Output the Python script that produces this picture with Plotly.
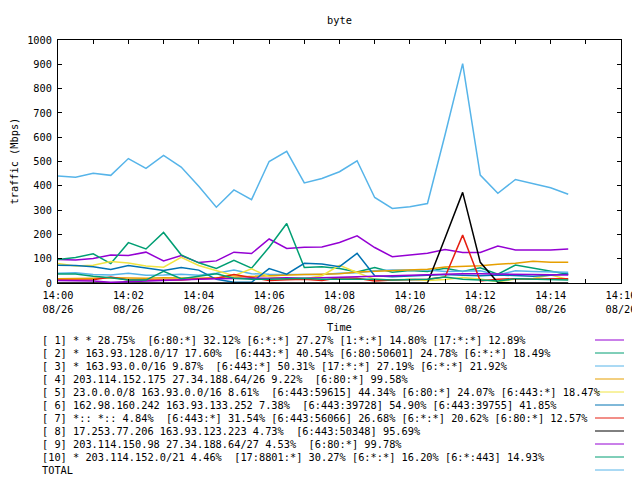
import plotly.graph_objects as go

# ---------------- data ----------------
sample_day = "2024-08-26"
sample_times = [
    "14:00:00", "14:00:30", "14:01:00", "14:01:30", "14:02:00", "14:02:30",
    "14:03:00", "14:03:30", "14:04:00", "14:04:30", "14:05:00", "14:05:30",
    "14:06:00", "14:06:30", "14:07:00", "14:07:30", "14:08:00", "14:08:30",
    "14:09:00", "14:09:30", "14:10:00", "14:10:30", "14:11:00", "14:11:30",
    "14:12:00", "14:12:30", "14:13:00", "14:13:30", "14:14:00", "14:14:30",
]

s1 = [97, 95, 101, 115, 113, 127, 91, 113, 84, 91, 127, 121, 181, 142, 147,
      148, 167, 194, 146, 108, 115, 122, 138, 126, 126, 152, 136, 136, 136, 140]
s2 = [97, 105, 120, 80, 166, 140, 208, 116, 83, 60, 93, 61, 147, 245, 64,
      67, 60, 45, 64, 44, 51, 47, 61, 47, 63, 36, 74, 61, 47, 36]
s3 = [40, 42, 35, 33, 40, 32, 33, 36, 32, 40, 53, 38, 36, 36, 37,
      35, 40, 42, 50, 54, 54, 54, 47, 50, 50, 33, 50, 47, 44, 44]
s4 = [18, 18, 20, 22, 20, 20, 22, 20, 20, 22, 25, 28, 30, 32, 35,
      36, 38, 45, 48, 52, 56, 57, 66, 67, 71, 77, 81, 89, 85, 85]
s5 = [80, 70, 73, 88, 82, 70, 65, 106, 72, 50, 30, 58, 26, 20, 18,
      30, 73, 43, 15, 12, 15, 10, 14, 23, 16, 5, 16, 19, 33, 15]
s6 = [73, 72, 67, 56, 72, 63, 51, 64, 53, 15, 3, 3, 59, 36, 81,
      78, 67, 122, 30, 26, 28, 30, 35, 32, 30, 33, 30, 28, 32, 37]
s7 = [12, 12, 13, 25, 12, 12, 12, 12, 18, 20, 35, 22, 10, 13, 15,
      10, 22, 20, 8, 12, 15, 15, 25, 197, 8, 15, 18, 15, 18, 17]
s8 = [0, 0, 0, 0, 0, 0, 0, 0, 0, 0, 0, 0, 0, 0, 0,
      0, 0, 0, 0, 0, 0, 0, 185, 373, 85, 2, 0, 0, 0, 0]
s9 = [10, 10, 8, 3, 5, 8, 10, 12, 15, 18, 20, 20, 20, 22, 20,
      22, 25, 28, 28, 30, 32, 35, 37, 38, 38, 36, 35, 35, 34, 33]
s10 = [37, 37, 28, 22, 12, 12, 48, 18, 28, 38, 20, 15, 15, 18, 20,
       15, 15, 18, 15, 12, 12, 15, 25, 15, 12, 8, 18, 15, 14, 12]
total = [440, 435, 452, 443, 512, 472, 525, 477, 398, 312, 383, 343, 500, 542, 412,
         430, 458, 503, 352, 307, 314, 327, 610, 903, 444, 369, 426, 410, 392, 365]

series_labels = [
    "[ 1] * * 28.75%  [6:80:*] 32.12% [6:*:*] 27.27% [1:*:*] 14.80% [17:*:*] 12.89%",
    "[ 2] * 163.93.128.0/17 17.60%  [6:443:*] 40.54% [6:80:50601] 24.78% [6:*:*] 18.49%",
    "[ 3] * 163.93.0.0/16 9.87%  [6:443:*] 50.31% [17:*:*] 27.19% [6:*:*] 21.92%",
    "[ 4] 203.114.152.175 27.34.188.64/26 9.22%  [6:80:*] 99.58%",
    "[ 5] 23.0.0.0/8 163.93.0.0/16 8.61%  [6:443:59615] 44.34% [6:80:*] 24.07% [6:443:*] 18.47%",
    "[ 6] 162.98.160.242 163.93.133.252 7.38%  [6:443:39728] 54.90% [6:443:39755] 41.85%",
    "[ 7] *:: *:: 4.84%  [6:443:*] 31.54% [6:443:56066] 26.68% [6:*:*] 20.62% [6:80:*] 12.57%",
    "[ 8] 17.253.77.206 163.93.123.223 4.73%  [6:443:50348] 95.69%",
    "[ 9] 203.114.150.98 27.34.188.64/27 4.53%  [6:80:*] 99.78%",
    "[10] * 203.114.152.0/21 4.46%  [17:8801:*] 30.27% [6:*:*] 16.20% [6:*:443] 14.93%",
    "TOTAL",
]
series_values = [s1, s2, s3, s4, s5, s6, s7, s8, s9, s10, total]
series_colors = ["#9400D3", "#009E73", "#56B4E9", "#E69F00", "#F0E442",
                 "#0072B2", "#E51E10", "#000000", "#9400D3", "#009E73", "#56B4E9"]

chart_title = "byte"
x_title = "Time"
y_title = "traffic (Mbps)"

# ---------------- figure ----------------
# the page body has an 8px margin, so the figure is made 8px smaller and all
# target pixel positions (taken from the 640x480 screenshot) are shifted by 8
OFF = 8
W, H = 640 - OFF, 480 - OFF
PLOT_L, PLOT_R, PLOT_T, PLOT_B = 58, 621, 40, 283   # screenshot pixels
L = PLOT_L - OFF
T = PLOT_T - OFF
R = 640 - PLOT_R
B = 480 - PLOT_B
PW, PH = PLOT_R - PLOT_L, PLOT_B - PLOT_T
FONT = "DejaVu Sans Mono"
FS = 10.3

def px_x(x):
    return (x - PLOT_L) / PW

def px_y(y):
    return (PLOT_B - y) / PH

x_vals = [f"{sample_day} {t}" for t in sample_times]

fig = go.Figure()
for label, vals, color in zip(series_labels, series_values, series_colors):
    fig.add_trace(go.Scatter(x=x_vals, y=vals, mode="lines", name=label,
                             line=dict(color=color, width=1.5), showlegend=False))

annotations = []
shapes = []
for i, (label, color) in enumerate(zip(series_labels, series_colors)):
    yy = px_y(340 + 13 * i)
    annotations.append(dict(text=label.replace(" ", "\u00a0"), xref="paper", yref="paper",
                            x=px_x(40), y=yy, xanchor="left", yanchor="middle",
                            showarrow=False, font=dict(family=FONT, size=FS, color="black")))
    shapes.append(dict(type="line", xref="paper", yref="paper",
                       x0=px_x(595), x1=px_x(624), y0=yy, y1=yy,
                       line=dict(color=color, width=1)))

annotations.append(dict(text=x_title, xref="paper", yref="paper", x=0.5, y=px_y(327),
                        xanchor="center", yanchor="middle", showarrow=False,
                        font=dict(family=FONT, size=FS, color="black")))
annotations.append(dict(text=y_title, xref="paper", yref="paper", x=px_x(13), y=0.5,
                        xanchor="center", yanchor="middle", textangle=-90, showarrow=False,
                        font=dict(family=FONT, size=FS, color="black")))

fig.update_layout(
    width=W, height=H, autosize=False,
    margin=dict(l=L, r=R, t=T, b=B, pad=0, autoexpand=False),
    paper_bgcolor="white", plot_bgcolor="white",
    font=dict(family=FONT, size=FS, color="black"),
    title=dict(text=chart_title, x=0.5, xref="paper", y=1 - (20 - OFF) / H, yref="container",
               xanchor="center", yanchor="middle", font=dict(family=FONT, size=FS)),
    annotations=annotations, shapes=shapes, showlegend=False,
)
fig.update_xaxes(
    type="date", range=[f"{sample_day} 14:00", f"{sample_day} 14:16"],
    tick0=f"{sample_day} 14:00", dtick=120000, tickformat="%H:%M<br>%m/%d",
    ticks="inside", ticklen=4, tickcolor="black", tickwidth=1,
    minor=dict(dtick=60000, ticks="inside", ticklen=4, tickcolor="black", showgrid=False),
    showline=True, linecolor="black", linewidth=1, mirror="ticks",
    showgrid=False, zeroline=False, tickfont=dict(family=FONT, size=FS),
    automargin=False, ticklabelstandoff=3,
)
fig.update_yaxes(
    range=[0, 1000], dtick=100, tick0=0,
    ticks="inside", ticklen=4, tickcolor="black", tickwidth=1,
    showline=True, linecolor="black", linewidth=1, mirror="ticks",
    showgrid=False, zeroline=False, tickfont=dict(family=FONT, size=FS),
    ticklabelstandoff=3, automargin=False,
)

fig.write_html("out.html")
